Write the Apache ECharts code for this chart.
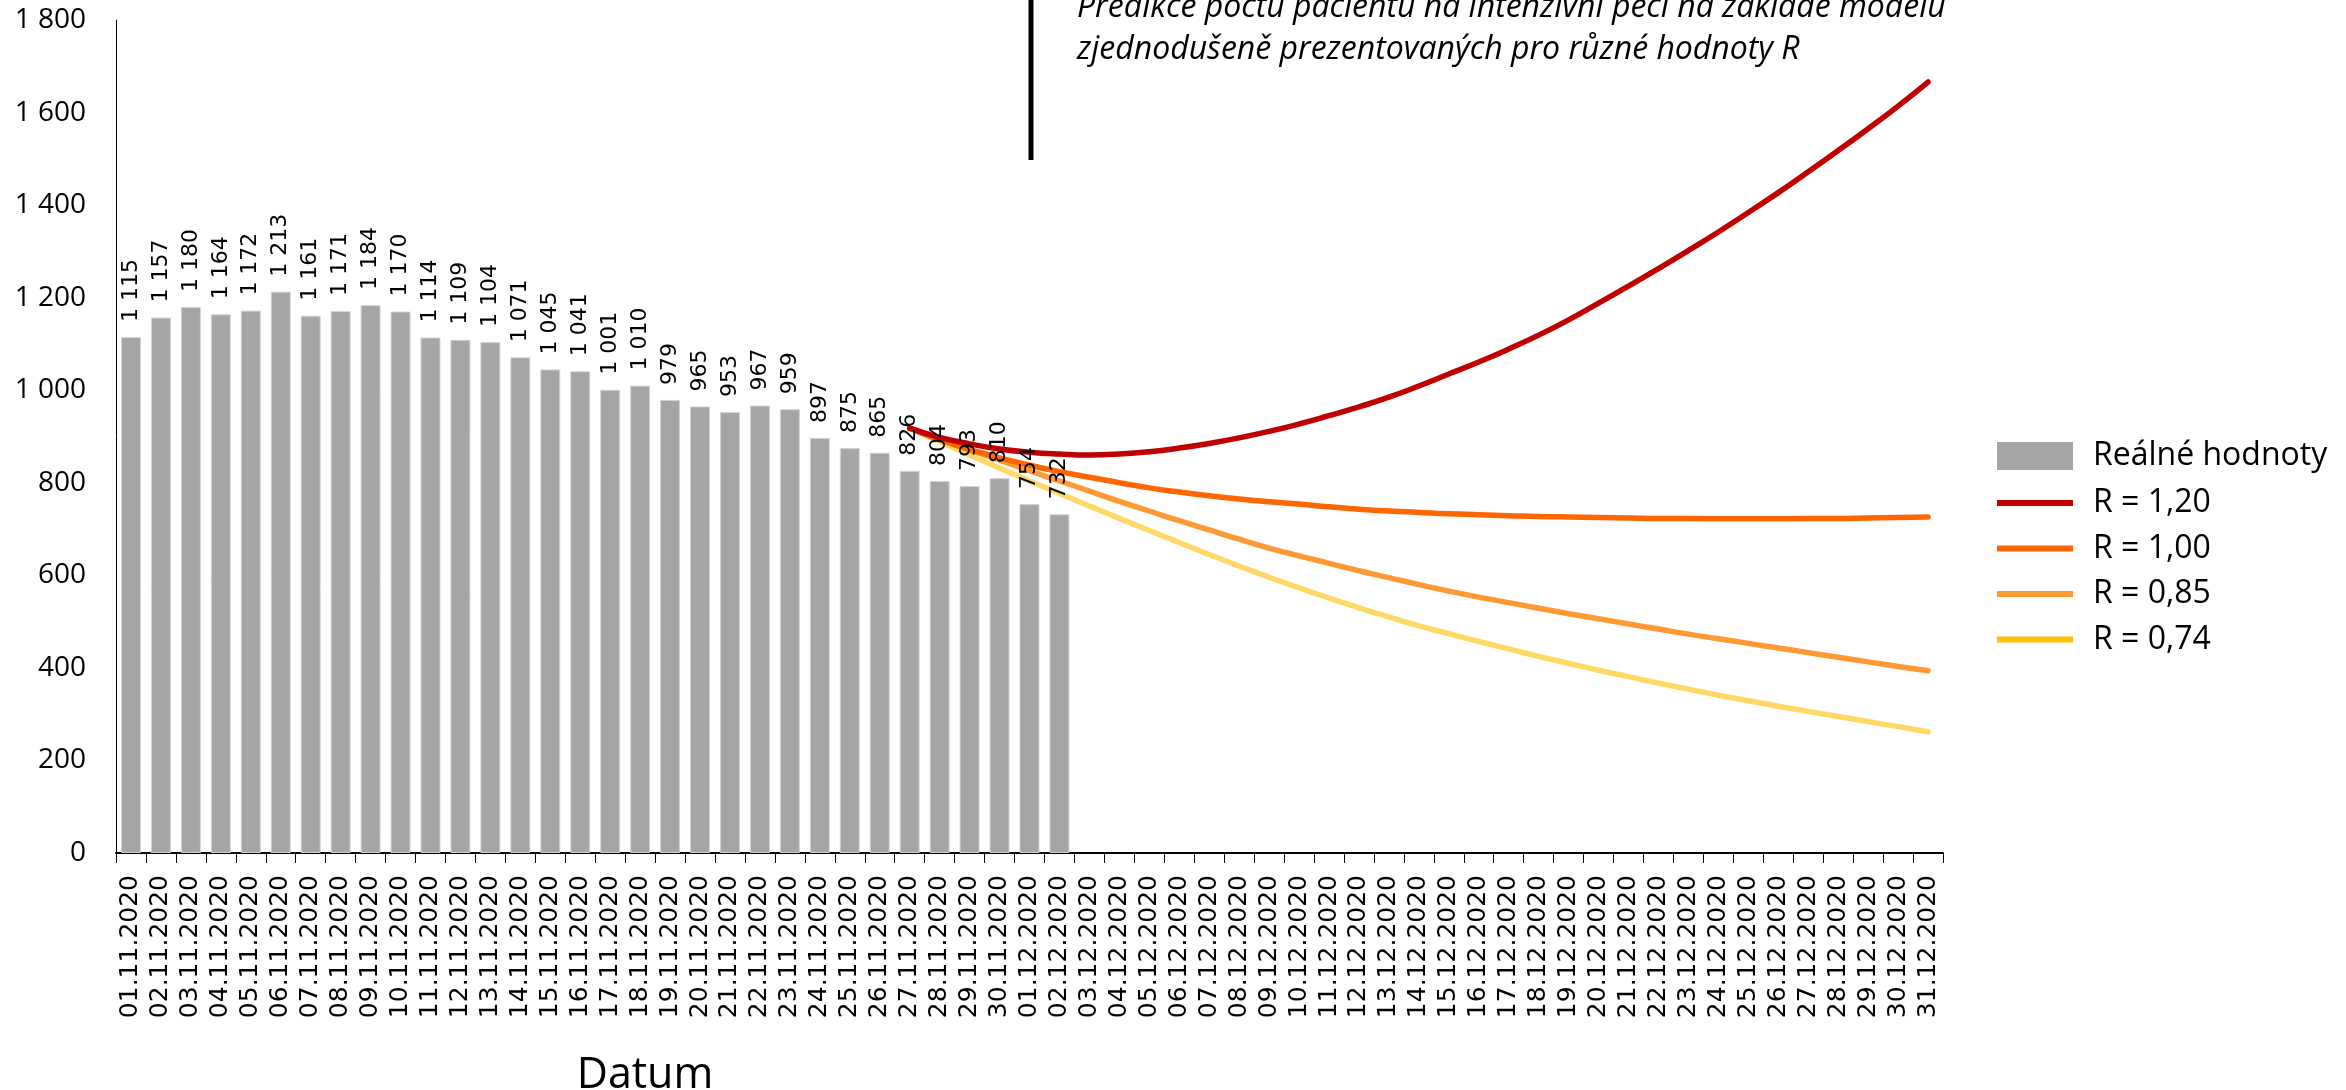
<!DOCTYPE html>
<html>
<head>
<meta charset="utf-8">
<script src="https://cdn.jsdelivr.net/npm/echarts@6/dist/echarts.min.js"></script>
<style>html,body{margin:0;padding:0;background:#fff;}#c{width:2346px;height:1090px;}</style>
</head>
<body>
<div id="c"></div>
<script>
const categories = ['01.11.2020','02.11.2020','03.11.2020','04.11.2020','05.11.2020','06.11.2020','07.11.2020','08.11.2020','09.11.2020','10.11.2020',
'11.11.2020','12.11.2020','13.11.2020','14.11.2020','15.11.2020','16.11.2020','17.11.2020','18.11.2020','19.11.2020','20.11.2020',
'21.11.2020','22.11.2020','23.11.2020','24.11.2020','25.11.2020','26.11.2020','27.11.2020','28.11.2020','29.11.2020','30.11.2020',
'01.12.2020','02.12.2020','03.12.2020','04.12.2020','05.12.2020','06.12.2020','07.12.2020','08.12.2020','09.12.2020','10.12.2020',
'11.12.2020','12.12.2020','13.12.2020','14.12.2020','15.12.2020','16.12.2020','17.12.2020','18.12.2020','19.12.2020','20.12.2020',
'21.12.2020','22.12.2020','23.12.2020','24.12.2020','25.12.2020','26.12.2020','27.12.2020','28.12.2020','29.12.2020','30.12.2020','31.12.2020'];

// Real ICU patients, 01.11.2020 - 02.12.2020
const realValues = [1115,1157,1180,1164,1172,1213,1161,1171,1184,1170,1114,1109,1104,1071,1045,1041,1001,1010,979,965,953,967,959,897,875,865,826,804,793,810,754,732];

// Model predictions, 27.11.2020 - 31.12.2020
const predStart = '27.11.2020';
const r120 = [918,898,884,873,866,862,860,862,867,875,885,897,911,927,945,964,985,1009,1035,1061,1089,1119,1152,1188,1225,1263,1302,1342,1384,1427,1472,1518,1565,1614,1666];
const r100 = [918,893,872,854,838,824,812,800,789,780,772,765,759,754,748,743,739,736,733,731,729,727,726,725,724,723,723,722,722,722,723,723,724,725,726];
const r085 = [918,894,871,849,826,804,782,760,739,718,698,678,659,642,626,610,595,580,566,553,541,529,517,506,495,484,473,463,453,443,433,423,413,403,394];
const r074 = [918,889,860,832,804,777,750,723,697,671,645,620,596,573,551,530,510,491,474,457,441,425,410,395,381,367,354,341,329,317,306,295,284,273,262];

const yTicks = [0,200,400,600,800,1000,1200,1400,1600,1800];
const seriesNames = ['Reálné hodnoty','R = 1,20','R = 1,00','R = 0,85','R = 0,74'];
const annotationLines = ['Predikce počtu pacientů na intenzivní péči na základě modelu','zjednodušeně prezentovaných pro různé hodnoty R'];
const axisTitle = 'Datum';

function fmt(v){ return String(v).replace(/\B(?=(\d{3})+(?!\d))/g, ' '); }
function pad(arr){
  const startIdx = categories.indexOf(predStart);
  const out = new Array(categories.length).fill(null);
  arr.forEach((v,i)=>{ out[startIdx+i] = v; });
  return out;
}

const chart = echarts.init(document.getElementById('c'), null, {renderer:'canvas'});
const lineSeries = (name, data, color, z) => ({
  name, type:'line', data: pad(data), smooth: true, symbol:'none', connectNulls:false,
  color, lineStyle:{color, width:5.5, cap:'round'}, z
});

chart.setOption({
  animation:false,
  backgroundColor:'#fff',
  grid:{left:116, right:403, top:20, bottom:237, containLabel:false},
  xAxis:{
    type:'category', data:categories, boundaryGap:true,
    axisLine:{show:true, lineStyle:{color:'#000', width:2}},
    axisTick:{show:true, length:10, lineStyle:{color:'#000', width:1}, interval:0},
    axisLabel:{interval:0, rotate:90, margin:22, fontFamily:'DejaVu Sans', fontSize:25, color:'#000'},
    splitLine:{show:false}
  },
  yAxis:{
    type:'value', min:0, max:1800, interval:200,
    axisLine:{show:true, lineStyle:{color:'#000', width:1}},
    axisTick:{show:false},
    splitLine:{show:false},
    axisLabel:{margin:30, fontFamily:'Open Sans', fontSize:28, color:'#000', formatter:(v)=> yTicks.includes(v) ? fmt(v) : ''}
  },
  legend:[
    {data:[{name:seriesNames[0], icon:'rect', itemStyle:{color:'#A5A5A5', borderWidth:0}}],
     left:1992, top:435, orient:'vertical', itemWidth:76, itemHeight:28, itemGap:13,
     textStyle:{fontFamily:'Open Sans', fontSize:32, color:'#000', lineHeight:30, padding:[0,0,0,15]}},
    {data:[
      {name:seriesNames[1], icon:'rect', itemStyle:{color:'#C00000', borderWidth:0}},
      {name:seriesNames[2], icon:'rect', itemStyle:{color:'#FF6600', borderWidth:0}},
      {name:seriesNames[3], icon:'rect', itemStyle:{color:'#FF9933', borderWidth:0}},
      {name:seriesNames[4], icon:'rect', itemStyle:{color:'#FFC000', borderWidth:0}}
     ],
     left:1992, top:482, orient:'vertical', itemWidth:76, itemHeight:6, itemGap:13.5,
     textStyle:{fontFamily:'Open Sans', fontSize:32, color:'#000', lineHeight:30, padding:[0,0,0,15]}}
  ],
  series:[
    {name:seriesNames[0], type:'bar', data:realValues, barWidth:20, z:10,
     itemStyle:{color:'#A5A5A5', borderColor:'#D4D4D4', borderWidth:1},
     label:{show:true, position:'top', rotate:90, align:'left', verticalAlign:'middle', distance:15,
            fontFamily:'DejaVu Sans', fontSize:22, color:'#000', formatter:(p)=>fmt(p.value)}},
    lineSeries(seriesNames[4], r074, '#FFD966', 3),
    lineSeries(seriesNames[3], r085, '#FF9933', 4),
    lineSeries(seriesNames[2], r100, '#FF6600', 5),
    lineSeries(seriesNames[1], r120, '#C00000', 6)
  ],
  graphic:[
    {type:'line', shape:{x1:1031, y1:0, x2:1031, y2:160}, style:{stroke:'#000', lineWidth:5}},
    {type:'text', x:1077, y:8, style:{text:annotationLines[0], font:'italic 32px "Open Sans"', fill:'#000', verticalAlign:'middle', align:'left'}},
    {type:'text', x:1077, y:50, style:{text:annotationLines[1], font:'italic 32px "Open Sans"', fill:'#000', verticalAlign:'middle', align:'left'}},
    {type:'text', x:645, y:1076, style:{text:axisTitle, font:'43px "Open Sans"', fill:'#000', verticalAlign:'middle', align:'center'}}
  ]
});
</script>
</body>
</html>
